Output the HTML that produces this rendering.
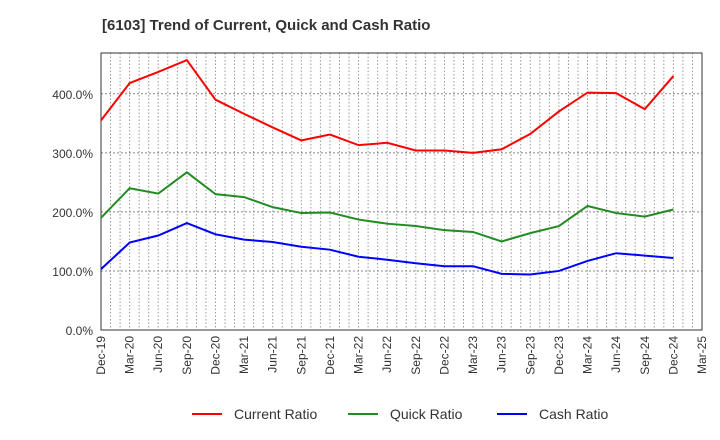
<!DOCTYPE html>
<html><head><meta charset="utf-8"><style>
body{margin:0;background:#fff;font-family:"Liberation Sans",sans-serif}
</style></head><body>
<svg id="c" width="720" height="440" style="display:block">
<text x="102" y="30" font-size="15" font-weight="bold" fill="#333">[6103]  Trend of Current, Quick and Cash Ratio</text>
</svg>
<script>
const categories=["Dec-19","Mar-20","Jun-20","Sep-20","Dec-20","Mar-21","Jun-21","Sep-21","Dec-21","Mar-22","Jun-22","Sep-22","Dec-22","Mar-23","Jun-23","Sep-23","Dec-23","Mar-24","Jun-24","Sep-24","Dec-24","Mar-25"];
const currentRatio=[355,418,437,457,390,366,343,321,331,313,317,304,304,300,306,332,370,402,401,374,430];
const quickRatio=[190,240,231,267,230,225,208,198,199,187,180,176,169,166,150,164,176,210,198,192,204];
const cashRatio=[103,148,160,181,162,153,149,141,136,124,119,113,108,108,95,94,100,117,130,126,122];
const yTicks=[0,100,200,300,400];
const yTickLabels=["0.0%","100.0%","200.0%","300.0%","400.0%"];
const NS="http://www.w3.org/2000/svg",svg=document.getElementById('c');
const L=101,R=702,T=53,B=330,YMAX=469;
const x=i=>L+(R-L)*i/(categories.length-1);
const y=v=>B-(B-T)*v/YMAX;
function mk(t,a){const e=document.createElementNS(NS,t);for(const k in a)e.setAttribute(k,a[k]);svg.appendChild(e);return e;}
const months=(categories.length-1)*3;
for(let m=1;m<months;m++){const xx=L+(R-L)*m/months;
const g=mk('line',{x1:xx,x2:xx,y1:T,y2:B,stroke:'#999','stroke-dasharray':'1.5,2','stroke-width':1});

}
yTicks.forEach((v,i)=>{
if(v>0){const g=mk('line',{x1:L,x2:R,y1:y(v),y2:y(v),stroke:'#888','stroke-dasharray':'2,2'});

}
const t=mk('text',{x:L-8,y:y(v)+5,'text-anchor':'end','font-size':12,fill:'#333'});t.textContent=yTickLabels[i];

});
const fr=mk('rect',{x:L,y:T,width:R-L,height:B-T,fill:'none',stroke:'#333'});


categories.forEach((c,i)=>{const xx=x(i);
const t=mk('text',{transform:`translate(${xx+4},${B+6}) rotate(-90)`,'text-anchor':'end','font-size':12,fill:'#333'});t.textContent=c;

});
[[currentRatio,'#f00','current-ratio-line'],[quickRatio,'#228b22','quick-ratio-line'],[cashRatio,'#00f','cash-ratio-line']].forEach(([d,c,n])=>{
const p=mk('polyline',{points:d.map((v,i)=>x(i)+','+y(v)).join(' '),fill:'none',stroke:c,'stroke-width':2});

});
[["Current Ratio",'#f00',192],["Quick Ratio",'#228b22',348],["Cash Ratio",'#00f',497]].forEach(([s,c,lx])=>{
const l=mk('line',{x1:lx,x2:lx+30,y1:414,y2:414,stroke:c,'stroke-width':2});


const t=mk('text',{x:lx+42,y:419,'font-size':14,fill:'#333'});t.textContent=s;

});
</script></body></html>
